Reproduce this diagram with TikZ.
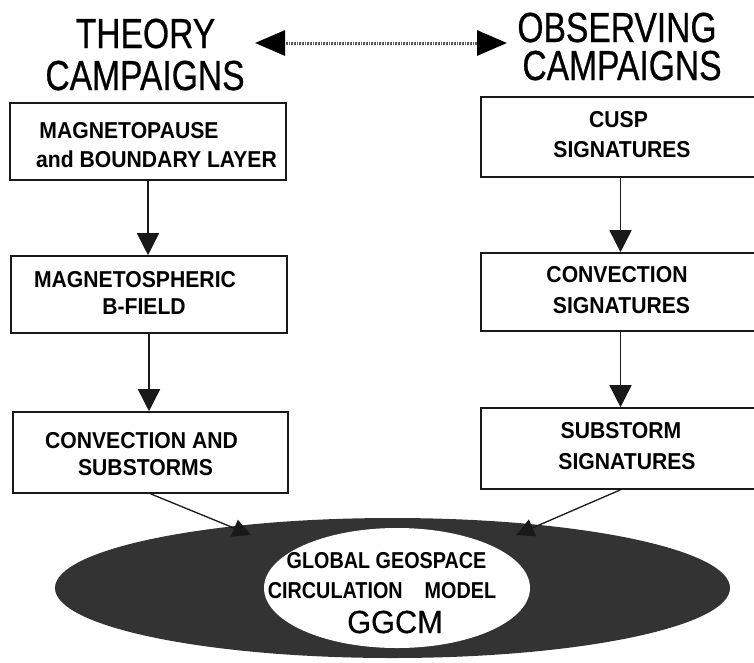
\documentclass[tikz,border=0pt]{standalone}
\usepackage{fontspec}
\usetikzlibrary{arrows.meta,shapes.geometric}
\newfontfamily\headfont[FakeStretch=0.8,FakeBold=0.6]{Liberation Sans}
\newfontfamily\boxfont[FakeStretch=0.92]{Liberation Sans}
\newfontfamily\ellfont[FakeStretch=0.86]{Liberation Sans}
\newfontfamily\ggfont[FakeStretch=0.96,FakeBold=0.4]{Liberation Sans}
\tikzset{
  head/.style={anchor=base,inner sep=0pt,font=\headfont\fontsize{42}{42}\selectfont},
  lbl/.style={anchor=base,inner sep=0pt,font=\boxfont\bfseries\fontsize{23}{23}\selectfont},
  elbl/.style={anchor=base,inner sep=0pt,font=\ellfont\bfseries\fontsize{23}{23}\selectfont},
  gg/.style={anchor=base,inner sep=0pt,font=\ggfont\fontsize{32}{32}\selectfont},
  stepbox/.style={draw=black!90,line width=1.6pt,rectangle,inner sep=0pt},
  flow/.style={draw=black!90,line width=1.6pt,-{Triangle[length=22pt,width=22pt]}},
  slant/.style={draw=black!90,line width=1.3pt,-{Triangle[length=18pt,width=18pt]}},
  link/.style={draw=black!65,line width=3pt,dash pattern=on 1pt off 0.6pt,
    {Triangle[length=30pt,width=25pt,color=black,fill=black]}-{Triangle[length=30pt,width=25pt,color=black,fill=black]}}
}
\begin{document}
\begin{tikzpicture}[x=1pt,y=-1pt]
\useasboundingbox (0,0) rectangle (754,662);
\fill[white] (0,0) rectangle (754,662);

% headings
\node[head] (th1) at (145.5,48) {THEORY};
\node[head] (th2) at (145,90) {CAMPAIGNS};
\node[head] (ob1) at (617,42) {OBSERVING};
\node[head] (ob2) at (622,80) {CAMPAIGNS};
\coordinate (la) at (255,43);
\coordinate (ra) at (507,43);
\draw[link] (la) -- (ra);

% left boxes
\node[stepbox,minimum width=276pt,minimum height=77pt] (L1) at (148,141.5) {};
\node[stepbox,minimum width=276pt,minimum height=77pt] (L2) at (149,294.5) {};
\node[stepbox,minimum width=275pt,minimum height=81pt] (L3) at (150.5,452.5) {};
% right boxes (run past the right edge)
\node[stepbox,minimum width=279pt,minimum height=80pt] (R1) at (620.5,137) {};
\node[stepbox,minimum width=279pt,minimum height=78pt] (R2) at (620.5,292) {};
\node[stepbox,minimum width=279pt,minimum height=81pt] (R3) at (620.5,448.5) {};

% labels
\node[lbl] (t1a) at (129,138) {MAGNETOPAUSE};
\node[lbl] (t1b) at (156.5,167) {and BOUNDARY LAYER};
\node[lbl] (t2a) at (135,287) {MAGNETOSPHERIC};
\node[lbl] (t2b) at (144,314) {B-FIELD};
\node[lbl] (t3a) at (141.5,448) {CONVECTION AND};
\node[lbl] (t3b) at (145.5,475) {SUBSTORMS};
\node[lbl] (o1a) at (618.5,127) {CUSP};
\node[lbl] (o1b) at (622,157) {SIGNATURES};
\node[lbl] (o2a) at (617,282) {CONVECTION};
\node[lbl] (o2b) at (621.5,313) {SIGNATURES};
\node[lbl] (o3a) at (621,438) {SUBSTORM};
\node[lbl] (o3b) at (627,469) {SIGNATURES};

% vertical connectors
\draw[flow] (L1.south) -- (L1.south |- L2.north);
\draw[flow] (L2.south) -- (L2.south |- L3.north);
\draw[flow] (R1.south) -- (R1.south |- R2.north);
\draw[flow] (R2.south) -- (R2.south |- R3.north);

% ellipse
\node[ellipse,fill=black!80,minimum width=675pt,minimum height=140pt,inner sep=0pt] (outer) at (392.5,588) {};
\node[ellipse,fill=white,minimum width=266pt,minimum height=120pt,inner sep=0pt] (inner) at (397,588) {};
\node[elbl] (g1) at (386.5,568) {GLOBAL GEOSPACE};
\node[elbl] (g2) at (382,598) {CIRCULATION\hspace{22pt}MODEL};
\node[gg] (g3) at (395,633) {GGCM};

% slanted connectors into the model
\coordinate (lt) at (251,535);
\coordinate (rt) at (516,535);
\draw[slant] (L3.south) -- (lt);
\draw[slant] (R3.south) -- (rt);
\end{tikzpicture}
\end{document}
